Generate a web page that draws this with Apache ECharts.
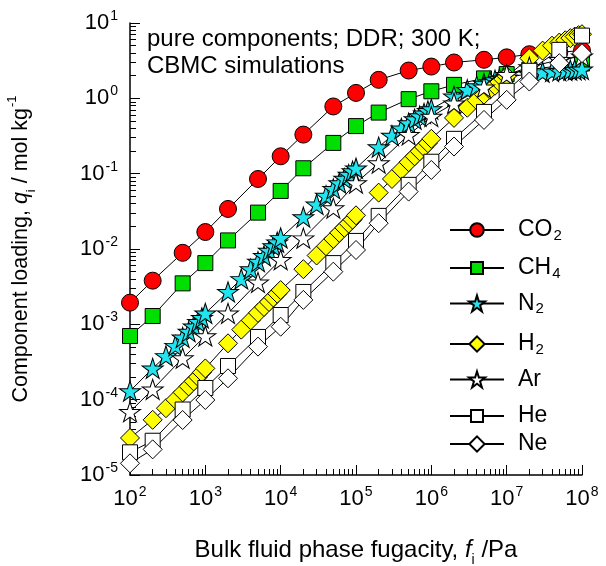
<!DOCTYPE html>
<html>
<head>
<meta charset="utf-8">
<script src="https://cdn.jsdelivr.net/npm/echarts@6/dist/echarts.min.js"></script>
<style>
  html, body { margin: 0; padding: 0; background: #fff; }
  #chart { width: 606px; height: 566px; }
</style>
</head>
<body>
<div id="chart"></div>
<script>
// Fugacity grids (Pa)
const fSparse = [1e2, 2e2, 5e2, 1e3, 2e3, 5e3, 1e4, 2e4, 5e4, 1e5, 2e5, 5e5, 1e6, 2e6, 5e6, 1e7, 2e7, 5e7, 1e8];
const fDense = [
  100, 200, 300, 400, 500, 600, 700, 800, 900,
  1e3, 2e3, 3e3, 4e3, 5e3, 6e3, 7e3, 8e3, 9e3,
  1e4, 2e4, 3e4, 4e4, 5e4, 6e4, 7e4, 8e4, 9e4,
  1e5, 2e5, 3e5, 4e5, 5e5, 6e5, 7e5, 8e5, 9e5,
  1e6, 2e6, 3e6, 4e6, 5e6, 6e6, 7e6, 8e6, 9e6,
  1e7, 2e7, 3e7, 4e7, 5e7, 6e7, 7e7, 8e7, 9e7,
  1e8
];

// Component loadings (mol/kg)
const qCO2 = [1.94e-3, 3.8e-3, 8.9e-3, 0.0168, 0.034, 0.085, 0.17, 0.33, 0.78, 1.18, 1.76, 2.34, 2.64, 2.99, 3.25, 3.5, 3.85, 4.1, 4.3];
const qCH4 = [7.0e-4, 1.29e-3, 3.5e-3, 6.5e-3, 0.013, 0.0304, 0.059, 0.118, 0.256, 0.428, 0.647, 0.975, 1.24, 1.51, 1.84, 2.1, 2.4, 2.7, 2.9];
const qN2 = [
  1.30e-4, 2.60e-4, 3.80e-4, 5.20e-4, 6.70e-4, 8.00e-4, 9.40e-4, 1.08e-3, 1.22e-3,
  1.40e-3, 2.70e-3, 4.00e-3, 5.40e-3, 6.80e-3, 8.10e-3, 9.50e-3, 0.0109, 0.0123,
  0.0140, 0.0265, 0.0390, 0.0510, 0.0630, 0.0750, 0.0860, 0.0970, 0.108,
  0.118, 0.225, 0.320, 0.400, 0.470, 0.530, 0.580, 0.630, 0.680,
  0.720, 1.06, 1.30, 1.45, 1.57, 1.66, 1.74, 1.80, 1.85,
  1.90, 2.12, 2.22, 2.28, 2.32, 2.35, 2.37, 2.39, 2.40,
  2.42
];
const qH2 = [
  3.1e-5, 5.4e-5, 7.7e-5, 1.0e-4, 1.25e-4, 1.5e-4, 1.75e-4, 2.0e-4, 2.3e-4,
  2.6e-4, 5.6e-4, 8.5e-4, 1.13e-3, 1.42e-3, 1.7e-3, 1.98e-3, 2.27e-3, 2.55e-3,
  2.85e-3, 5.4e-3, 8.2e-3, 0.0109, 0.0136, 0.0164, 0.0191, 0.0218, 0.0245,
  0.0280, 0.056, 0.085, 0.113, 0.142, 0.170, 0.198, 0.226, 0.254,
  0.290, 0.55, 0.75, 0.94, 1.12, 1.30, 1.47, 1.64, 1.80,
  1.96, 3.40, 4.30, 5.00, 5.50, 5.90, 6.30, 6.60, 6.90,
  7.10
];
const qAr = [6.9e-5, 1.37e-4, 3.55e-4, 7.0e-4, 1.40e-3, 3.6e-3, 7.2e-3, 0.0139, 0.0348, 0.075, 0.138, 0.327, 0.573, 0.86, 1.40, 2.05, 2.60, 3.25, 3.60];
const qHe = [2.0e-5, 2.85e-5, 7.4e-5, 1.43e-4, 2.8e-4, 6.8e-4, 1.33e-3, 2.69e-3, 6.5e-3, 0.0128, 0.0275, 0.071, 0.144, 0.29, 0.66, 1.26, 2.32, 4.4, 6.8];
const qNe = [1.43e-5, 2.19e-5, 5.37e-5, 9.9e-5, 1.92e-4, 5.06e-4, 9.3e-4, 2.11e-3, 5.0e-3, 9.7e-3, 0.022, 0.0578, 0.112, 0.229, 0.517, 0.955, 1.67, 2.93, 3.98];

// Legend labels: [plain name, subscript]
const names = ['CO2', 'CH4', 'N2', 'H2', 'Ar', 'He', 'Ne'];
const nameParts = { CO2: ['CO', '2'], CH4: ['CH', '4'], N2: ['N', '2'], H2: ['H', '2'], Ar: ['Ar', ''], He: ['He', ''], Ne: ['Ne', ''] };

const FONT = 'Liberation Sans, Arial, Helvetica, sans-serif';
const STAR = 'path://M0,-10 L2.245,-3.09 L9.511,-3.09 L3.633,1.18 L5.878,8.09 L0,3.82 L-5.878,8.09 L-3.633,1.18 L-9.511,-3.09 L-2.245,-3.09 Z';

const pairs = (xs, ys) => xs.map((x, i) => [x, ys[i]]);

const seriesSpec = [
  { name: 'CO2', x: fSparse, y: qCO2, symbol: 'circle', size: 17, color: '#ff0000' },
  { name: 'CH4', x: fSparse, y: qCH4, symbol: 'rect', size: 15, color: '#00e000' },
  { name: 'N2', x: fDense, y: qN2, symbol: STAR, size: [21, 20], color: '#22e4ee' },
  { name: 'H2', x: fDense, y: qH2, symbol: 'diamond', size: 19, color: '#ffff00' },
  { name: 'Ar', x: fSparse, y: qAr, symbol: STAR, size: [21, 20], color: '#ffffff' },
  { name: 'He', x: fSparse, y: qHe, symbol: 'rect', size: 15, color: '#ffffff' },
  { name: 'Ne', x: fSparse, y: qNe, symbol: 'diamond', size: 19, color: '#ffffff' }
];

const series = seriesSpec.map(s => ({
  name: s.name,
  type: 'line',
  data: pairs(s.x, s.y),
  symbol: s.symbol,
  symbolSize: s.size,
  showAllSymbol: true,
  clip: false,
  animation: false,
  lineStyle: { color: '#000', width: 1 },
  itemStyle: { color: s.color, borderColor: '#000', borderWidth: 1 }
}));

// One legend block per entry so each row sits at its own height
const legendRows = [227, 264, 302, 342, 378, 412, 442];
const legendIconH = [17, 15, 20, 19, 20, 15, 19];
const legends = names.map((n, i) => ({
  data: [n],
  left: 444,
  top: legendRows[i] - legendIconH[i] / 2 - 5,
  itemWidth: 54,
  itemHeight: legendIconH[i],
  selectedMode: false,
  formatter: name => {
    const p = nameParts[name];
    return '{m|' + p[0] + '}' + (p[1] ? '{s|' + p[1] + '}' : '');
  },
  textStyle: {
    rich: {
      m: { fontFamily: FONT, fontSize: 23, color: '#000', lineHeight: 26, padding: [0, 0, 0, 9] },
      s: { fontFamily: FONT, fontSize: 15, color: '#000', lineHeight: 12, verticalAlign: 'bottom', padding: [0, 0, 0, 1] }
    }
  }
}));

const powLabel = v => {
  const e = Math.round(Math.log10(v));
  return '{b|10}{e|' + e + '}';
};
const tickRich = {
  b: { fontFamily: FONT, fontSize: 22, color: '#000', lineHeight: 24 },
  e: { fontFamily: FONT, fontSize: 14, color: '#000', lineHeight: 12, verticalAlign: 'top', padding: [-2, 0, 0, 1] }
};

const axisCommon = {
  type: 'log',
  logBase: 10,
  splitLine: { show: false },
  axisLine: { show: true, lineStyle: { color: '#000', width: 1.5 } },
  axisTick: { show: true, inside: true, length: 10, lineStyle: { color: '#000', width: 1 } },
  minorTick: { show: true, splitNumber: 9, length: 6, lineStyle: { color: '#000', width: 1 } },
  minorSplitLine: { show: false }
};

const option = {
  backgroundColor: '#fff',
  animation: false,
  grid: { left: 130, top: 23, right: 24, bottom: 91, containLabel: false, outerBoundsMode: 'none' },
  xAxis: Object.assign({}, axisCommon, {
    min: 1e2,
    max: 1e8,
    axisLabel: { margin: 12, formatter: powLabel, rich: tickRich },
    name: '{t|Bulk fluid phase fugacity, }{i|f}{sb|i}{t| /Pa}',
    nameLocation: 'middle',
    nameGap: 62,
    nameTextStyle: {
      rich: {
        t: { fontFamily: FONT, fontSize: 24, color: '#000', lineHeight: 26 },
        i: { fontFamily: FONT, fontSize: 24, fontStyle: 'italic', color: '#000', lineHeight: 26 },
        sb: { fontFamily: FONT, fontSize: 14, color: '#000', lineHeight: 12, verticalAlign: 'bottom', padding: [0, 0, -4, 0] }
      }
    }
  }),
  yAxis: Object.assign({}, axisCommon, {
    min: 1e-5,
    max: 10,
    axisLabel: { margin: 12, formatter: powLabel, rich: tickRich },
    name: '{t|Component loading, }{i|q}{sb|i}{t| / mol kg}{sp|-1}',
    nameLocation: 'middle',
    nameRotate: 90,
    nameGap: 96,
    nameTextStyle: {
      rich: {
        t: { fontFamily: FONT, fontSize: 21.5, color: '#000', lineHeight: 26 },
        i: { fontFamily: FONT, fontSize: 21.5, fontStyle: 'italic', color: '#000', lineHeight: 26 },
        sb: { fontFamily: FONT, fontSize: 13, color: '#000', lineHeight: 12, verticalAlign: 'bottom', padding: [0, 0, -4, 0] },
        sp: { fontFamily: FONT, fontSize: 13, color: '#000', lineHeight: 12, verticalAlign: 'top', padding: [-2, 0, 0, 1] }
      }
    }
  }),
  legend: legends,
  graphic: [{
    type: 'text',
    left: 147,
    top: 26,
    style: {
      text: 'pure components; DDR; 300 K;\nCBMC simulations',
      font: '24px ' + FONT,
      lineHeight: 27,
      fill: '#000'
    }
  }],
  series: series
};

const chart = echarts.init(document.getElementById('chart'), null, { renderer: 'canvas' });
chart.setOption(option);
</script>
</body>
</html>
